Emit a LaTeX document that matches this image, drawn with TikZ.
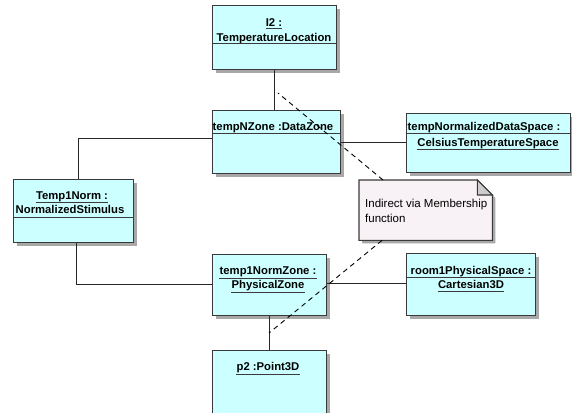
\documentclass[tikz,border=0pt]{standalone}
\usepackage{fontspec}
\setmainfont{Liberation Sans}
\usetikzlibrary{shadows,calc}
\definecolor{boxfill}{HTML}{CCFFFF}
\definecolor{boxline}{HTML}{3A3A3A}
\definecolor{shadowc}{HTML}{A8A8A8}
\definecolor{notefill}{HTML}{F8F1F5}
\definecolor{foldfill}{HTML}{CDCDCD}
\begin{document}
\begin{tikzpicture}[x=1pt,y=-1pt,
  objbox/.style={draw=boxline, line width=1.2pt, fill=boxfill, inner sep=0, anchor=north west,
    drop shadow={shadow xshift=3pt, shadow yshift=-3pt, fill=shadowc, opacity=1}},
  lab/.style={font=\fontsize{11.3}{13}\selectfont\bfseries, inner sep=0, anchor=base},
  uline/.style={draw=boxline, line width=1pt},
  link/.style={draw=black!85, line width=0.9pt},
  anchorline/.style={draw=black, line width=0.9pt, dash pattern=on 5pt off 4pt},
  notetext/.style={font=\fontsize{11.5}{16}\selectfont, inner sep=0, anchor=base west},
]
\useasboundingbox (0,0) rectangle (572,412);
\clip (0,0) rectangle (572,412);

% object boxes
\node[objbox, minimum width=124pt, minimum height=64pt] (i2) at (212,5) {};
\node[objbox, minimum width=128pt, minimum height=63pt] (tnz) at (212,110) {};
\node[objbox, minimum width=164pt, minimum height=59pt] (tnds) at (406,113) {};
\node[objbox, minimum width=120pt, minimum height=63pt] (t1n) at (13,179) {};
\node[objbox, minimum width=114pt, minimum height=61pt] (t1z) at (212,254) {};
\node[objbox, minimum width=129pt, minimum height=62pt] (room) at (406,253) {};
\node[objbox, minimum width=114pt, minimum height=80pt] (p2) at (212,350) {};

% labels
\node[lab] (i2a) at (274,26.5) {I2 :};
\node[lab] (i2b) at (274,41.5) {TemperatureLocation};
\draw[uline] ([yshift=-2pt]i2a.base west) -- ([yshift=-2pt]i2a.base east);
\draw[uline] (i2.west |- 0,44) -- (i2.east |- 0,44);

\node[lab] (tnza) at (273,130.5) {tempNZone :DataZone};
\draw[uline] (tnz.west |- 0,133) -- (tnz.east |- 0,133);

\node[lab] (tndsa) at (484,130) {tempNormalizedDataSpace :};
\node[lab] (tndsb) at (488,146) {CelsiusTemperatureSpace};
\draw[uline] (tnds.west |- 0,133) -- (tnds.east |- 0,133);
\draw[uline] ([yshift=-3.5pt]tndsb.base west) -- ([yshift=-3.5pt]tndsb.base east);

\node[lab] (t1na) at (72,199) {Temp1Norm :};
\node[lab] (t1nb) at (70,213.5) {NormalizedStimulus};
\draw[uline] ([yshift=-3.5pt]t1na.base west) -- ([yshift=-3.5pt]t1na.base east);
\draw[uline] (t1n.west |- 0,217.7) -- (t1n.east |- 0,217.7);

\node[lab] (t1za) at (268,274.5) {temp1NormZone :};
\node[lab] (t1zb) at (268,288.5) {PhysicalZone};
\draw[uline] ([yshift=-3.5pt]t1za.base west) -- ([yshift=-3.5pt]t1za.base east);
\draw[uline] ([yshift=-3.5pt]t1zb.base west) -- ([yshift=-3.5pt]t1zb.base east);

\node[lab] (rooma) at (471,274) {room1PhysicalSpace :};
\node[lab] (roomb) at (471,288) {Cartesian3D};
\draw[uline] (room.west |- 0,277.3) -- (room.east |- 0,277.3);
\draw[uline] ([yshift=-3.5pt]roomb.base west) -- ([yshift=-3.5pt]roomb.base east);

\node[lab] (p2a) at (268,370.5) {p2 :Point3D};
\draw[uline] ([yshift=-3.5pt]p2a.base west) -- ([yshift=-3.5pt]p2a.base east);

% note
\node[inner sep=0, anchor=north west, minimum width=133pt, minimum height=60pt] (note) at (359,180) {};
\fill[shadowc] ([xshift=3pt,yshift=-3pt]note.north west) -- ([xshift=-12pt,yshift=-3pt]note.north east)
  -- ([xshift=3pt,yshift=-18pt]note.north east) -- ([xshift=3pt,yshift=-3pt]note.south east)
  -- ([xshift=3pt,yshift=-3pt]note.south west) -- cycle;
\draw[draw=boxline, line width=1.1pt, fill=notefill] (note.north west) -- ([xshift=-15pt]note.north east)
  -- ([yshift=-15pt]note.north east) -- (note.south east) -- (note.south west) -- cycle;
\draw[draw=boxline, line width=1.1pt, fill=foldfill] ([xshift=-15pt]note.north east)
  -- ([xshift=-15pt,yshift=-15pt]note.north east) -- ([yshift=-15pt]note.north east) -- cycle;
\node[notetext] (nt1) at (365,207.5) {Indirect via Membership};
\node[notetext] (nt2) at (365,222.5) {function};

% links
\draw[link] (i2.south) -- (i2.south |- tnz.north);
\draw[link] (tnz.west |- 0,138) -| (t1n.north -| 78,0);
\draw[link] (tnz.east |- 0,142) -- (tnds.west |- 0,142);
\draw[link] (t1n.south -| 76,0) |- (t1z.west |- 0,284);
\draw[link] (t1z.east |- 0,283) -- (room.west |- 0,283);
\draw[link] (t1z.south -| 269,0) -- (p2.north -| 269,0);

% note attachments
\coordinate (n1) at (278,93);
\coordinate (n2) at (269,333);
\draw[anchorline] ([xshift=24pt]note.north west) -- (n1);
\draw[anchorline] ([xshift=23pt]note.south west) -- (n2);
\end{tikzpicture}
\end{document}
